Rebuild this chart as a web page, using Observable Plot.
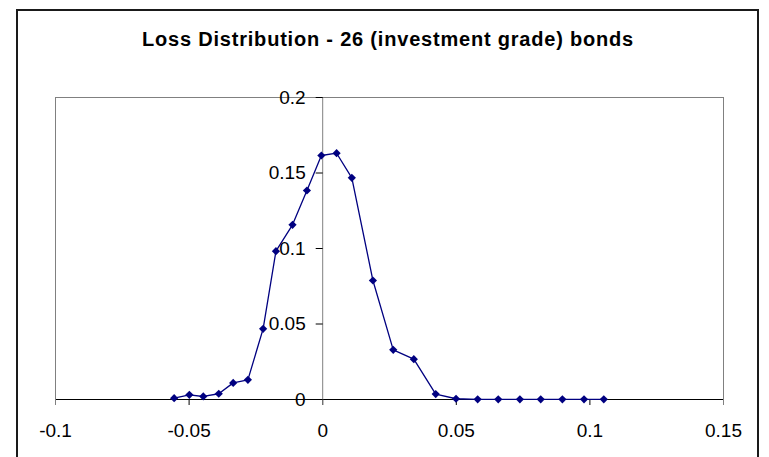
<!DOCTYPE html>
<html>
<head>
<meta charset="utf-8">
<script src="https://cdn.jsdelivr.net/npm/d3@7"></script>
<script src="https://cdn.jsdelivr.net/npm/@observablehq/plot@0.6"></script>
<style>
  html, body { margin: 0; padding: 0; background: #fff; }
  #wrap { position: relative; width: 769px; height: 457px; overflow: hidden; background: #fff; }
  #border { position: absolute; left: 16px; top: 9px; width: 743px; height: 470px; border: 2px solid #1a1a1a; box-sizing: border-box; }
  #title { position: absolute; left: 0; top: 29px; width: 776px; text-align: center; font: bold 20px "Liberation Sans", Arial, sans-serif; line-height: 20px; letter-spacing: 0.8px; color: #000; white-space: nowrap; }
  #chart { position: absolute; left: 0; top: 0; }
</style>
</head>
<body>
<div id="wrap">
  <div id="border"></div>
  <div id="chart"></div>
  <div id="title"></div>
</div>
<script>
const chartTitle = "Loss Distribution - 26 (investment grade) bonds";

const lossValues = [-0.0556, -0.0499, -0.0447, -0.0389, -0.0335, -0.0280, -0.0223, -0.0175, -0.0113, -0.0059, -0.0005, 0.0052, 0.0109, 0.0188, 0.0264, 0.0341, 0.0423, 0.0499, 0.0580, 0.0657, 0.0738, 0.0816, 0.0897, 0.0978, 0.1052];
const probValues = [0.0009, 0.0031, 0.0020, 0.0038, 0.0110, 0.0130, 0.0468, 0.0982, 0.1157, 0.1384, 0.1616, 0.1631, 0.1468, 0.0788, 0.0329, 0.0267, 0.0036, 0.0005, 0.0001, 0.0001, 0.0001, 0.0001, 0.0001, 0.0001, 0.0001];

const xTicks = [-0.1, -0.05, 0, 0.05, 0.1, 0.15];
const xTickLabels = ["-0.1", "-0.05", "0", "0.05", "0.1", "0.15"];
const yTicks = [0, 0.05, 0.1, 0.15, 0.2];
const yTickLabels = ["0", "0.05", "0.1", "0.15", "0.2"];
const xDomain = [-0.1, 0.15];

const data = lossValues.map((x, i) => ({x, y: probValues[i]}));

const leftTick = {
  draw(context) {
    context.moveTo(0, 0);
    context.lineTo(-7, 0);
  }
};

document.getElementById("title").textContent = chartTitle;

const chart = Plot.plot({
  width: 769,
  height: 457,
  marginLeft: 55,
  marginRight: 46,
  marginTop: 97,
  marginBottom: 58,
  style: {fontFamily: "'Liberation Sans', Arial, sans-serif", fontSize: "19px", background: "transparent", color: "#000", overflow: "visible"},
  x: {domain: xDomain},
  y: {domain: [0, 0.2], axis: null},
  marks: [
    Plot.frame({stroke: "#808080"}),
    Plot.axisX({ticks: xTicks, tickFormat: d => xTickLabels[xTicks.indexOf(d)], tickSize: 6, tickPadding: 18, label: null, fontSize: 19}),
    Plot.ruleY([0], {stroke: "#000"}),
    Plot.ruleX([0], {stroke: "#808080", insetBottom: -6}),
    Plot.ruleX(xDomain, {y1: 0, y2: 0, stroke: "#808080", insetBottom: -6}),
    Plot.dot(yTicks, {x: 0, y: d => d, symbol: leftTick, fill: "none", stroke: "#000", strokeWidth: 1}),
    Plot.text(yTicks, {x: 0, y: d => d, text: (d, i) => yTickLabels[i], textAnchor: "end", dx: -17, fill: "#000", fontSize: 19}),
    Plot.line(data, {x: "x", y: "y", stroke: "#000080", strokeWidth: 1.3}),
    Plot.dot(data, {x: "x", y: "y", symbol: "diamond2", r: 3.7, fill: "#000080", stroke: "none"})
  ]
});
document.getElementById("chart").appendChild(chart);
</script>
</body>
</html>
